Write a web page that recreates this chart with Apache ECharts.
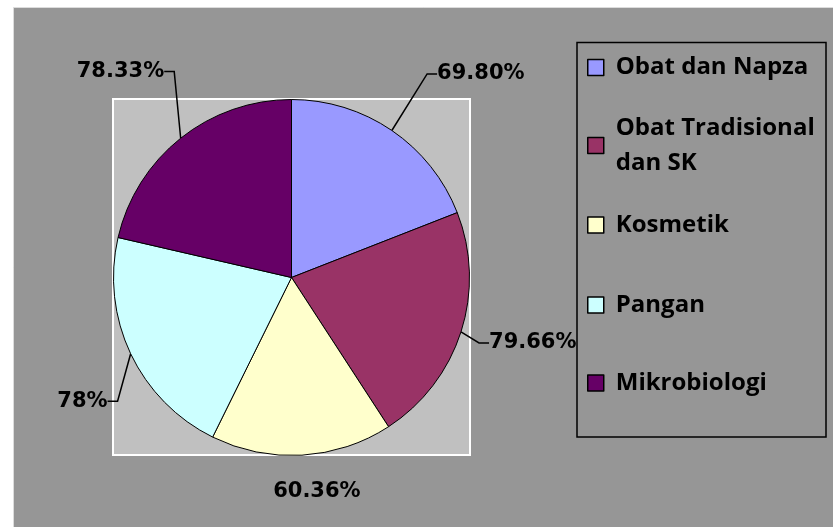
<!DOCTYPE html>
<html>
<head>
<meta charset="utf-8">
<script src="https://cdn.jsdelivr.net/npm/echarts@6/dist/echarts.min.js"></script>
<style>
  html, body { margin: 0; padding: 0; background: #fff; }
  #main { width: 833px; height: 527px; }
</style>
</head>
<body>
<div id="main"></div>
<script>
// data
const categories = ["Obat dan Napza", "Obat Tradisional dan SK", "Kosmetik", "Pangan", "Mikrobiologi"];
const values = [69.80, 79.66, 60.36, 78, 78.33];
const valueLabels = ["69.80%", "79.66%", "60.36%", "78%", "78.33%"];
const legendText = ["Obat dan Napza", "Obat Tradisional\ndan SK", "Kosmetik", "Pangan", "Mikrobiologi"];
const colors = ["#9999ff", "#993366", "#ffffcc", "#ccffff", "#660066"];

// label nudges (px) away from echarts' default outside spot, excel style
const labelDx = [19, -6, -45, 10, 11];
const labelDy = [-40, 5, 16, 39, -51];
// legend rows (top of each entry)
const legendTop = [50, 93, 207.5, 287.5, 365.5];

const chartDom = document.getElementById("main");
const myChart = echarts.init(chartDom);

let legends = categories.map(function (name, i) {
  return {
    data: [name],
    left: 587,
    top: legendTop[i],
    padding: 0,
    icon: "rect",
    itemWidth: 16,
    itemHeight: 16,
    selectedMode: false,
    itemStyle: { borderColor: "#000", borderWidth: 1.5 },
    formatter: function () {
      return legendText[i];
    },
    textStyle: {
      fontFamily: "Open Sans",
      fontWeight: "bold",
      fontSize: 24,
      lineHeight: 35,
      color: "#000",
      padding: i === 1 ? [35, 0, 0, 7] : [0, 0, 0, 7],
    },
  };
});

let option = {
  animation: false,
  graphic: [
    {
      type: "rect",
      z: -10,
      shape: { x: 13.5, y: 7.5, width: 840, height: 540 },
      style: { fill: "#969696", stroke: "#dcdcdc", lineWidth: 1 },
    },
    {
      // plot area
      type: "rect",
      z: -9,
      shape: { x: 113, y: 99, width: 357, height: 356 },
      style: { fill: "#c0c0c0", stroke: "#ffffff", lineWidth: 2 },
    },
    {
      // legend box
      type: "rect",
      z: -9,
      shape: { x: 577, y: 42.5, width: 249, height: 394.5 },
      style: { fill: "none", stroke: "#000", lineWidth: 1.5 },
    },
  ],
  legend: legends,
  series: [
    {
      type: "pie",
      center: [291.5, 277.5],
      radius: 178,
      startAngle: 90,
      clockwise: true,
      avoidLabelOverlap: false,
      emphasis: { scale: false },
      itemStyle: { borderColor: "#000", borderWidth: 1 },
      label: {
        show: true,
        position: "outside",
        fontFamily: "DejaVu Sans",
        fontWeight: "bold",
        fontSize: 21,
        color: "#000",
        formatter: function (p) {
          return valueLabels[p.dataIndex];
        },
      },
      labelLine: {
        length: 20,
        length2: 10,
        lineStyle: { color: "#000", width: 1.5 },
      },
      labelLayout: function (params) {
        const i = params.dataIndex;
        return {
          x: params.labelRect.x + labelDx[i],
          y: params.labelRect.y + labelDy[i],
          align: "left",
          verticalAlign: "top",
        };
      },
      data: categories.map(function (name, i) {
        let item = { name: name, value: values[i], itemStyle: { color: colors[i] } };
        if (i === 2) item.labelLine = { show: false };
        return item;
      }),
    },
  ],
};

option && myChart.setOption(option);
</script>
</body>
</html>
